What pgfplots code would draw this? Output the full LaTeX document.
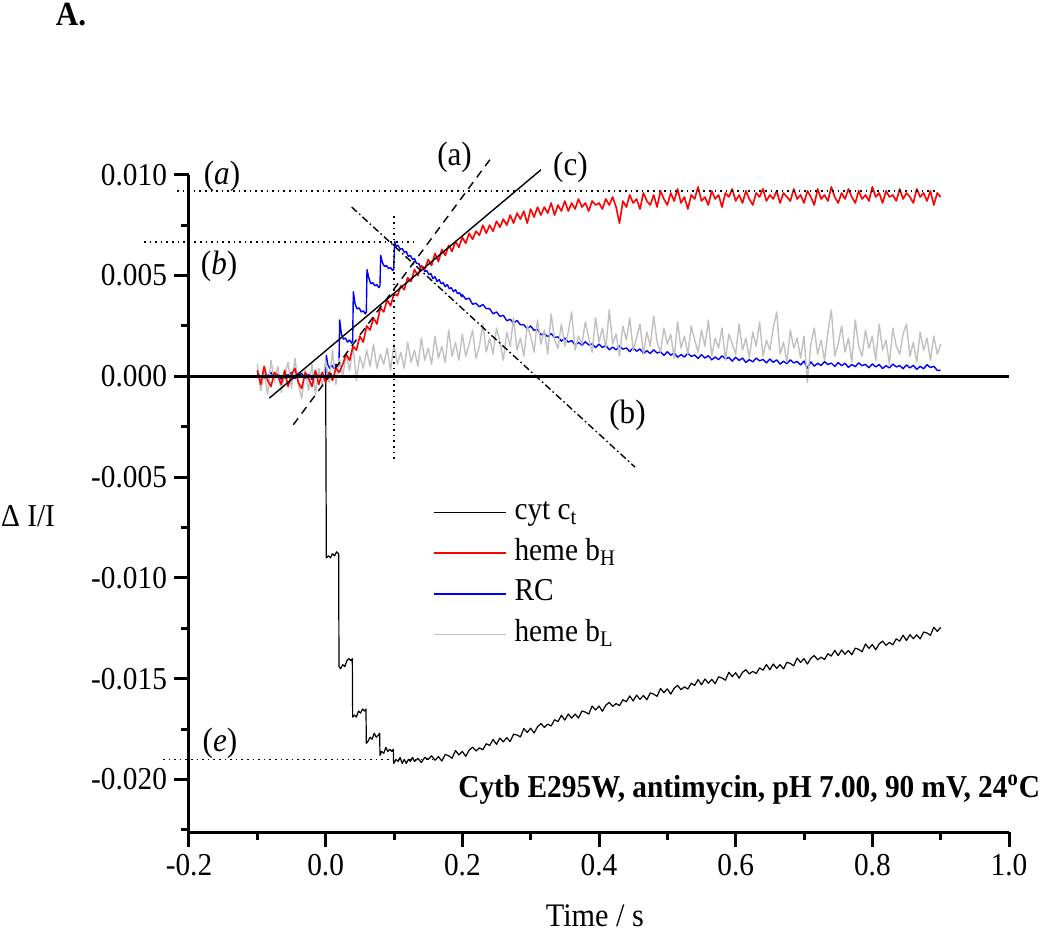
\documentclass[border=0pt]{standalone}
\usepackage{fontspec}
\setmainfont{Liberation Serif}[FakeStretch=0.92]
\usepackage{pgfplots}
\pgfplotsset{compat=1.18}
\definecolor{ltgray}{RGB}{192,192,192}
\newcommand{\tfont}{\fontsize{16}{19}\selectfont}
\newcommand{\lfont}{\fontsize{17}{20}\selectfont}

\begin{document}
\begin{tikzpicture}
\path[use as bounding box] (-94.5bp,-52bp) rectangle (430.5bp,416bp);
\begin{axis}[
    at={(0,0)}, anchor=south west, scale only axis,
    width=410bp, height=328.6bp,
    xmin=-0.2, xmax=1.0, ymin=-22.6, ymax=10,
    axis x line=bottom, axis y line=left,
    axis line style={-, line width=1.5bp},
    xtick={-0.2,0,0.2,0.4,0.6,0.8,1.0},
    xticklabels={-0.2,0.0,0.2,0.4,0.6,0.8,1.0},
    minor xtick={-0.1,0.1,0.3,0.5,0.7,0.9},
    ytick={-20,-15,-10,-5,0,5,10},
    yticklabels={-0.020,-0.015,-0.010,-0.005,0.000,0.005,0.010},
    minor ytick={-22.5,-17.5,-12.5,-7.5,-2.5,2.5,7.5},
    tick align=outside,
    major tick length=7.5bp, minor tick length=4bp,
    every tick/.style={black, line width=1.5bp},
    tick label style={font=\tfont},
    clip=false,
    legend style={draw=none, fill=none, at={(axis cs:0.157,-6.0)}, anchor=north west,
        inner sep=0pt, outer sep=0pt, row sep=5.35bp, font=\tfont,
        nodes={inner sep=0pt, text height=11bp, text depth=4bp},
        /tikz/every odd column/.append style={column sep=4bp}},
    legend cell align=left,
    legend image code/.code={\draw[#1] (0bp,0bp) -- (36bp,0bp);},
    every axis plot/.append style={line join=round},
]

% cyt c_t
\addplot[black, line width=0.6bp, forget plot] coordinates {
(-0.1,0.1) (-0.09,-0.1) (-0.08,0.0) (-0.07,0.1) (-0.06,-0.1) (-0.05,0.0) (-0.04,0.1) (-0.03,-0.1) (-0.02,0.0) (-0.01,0.1) (0.0,0.0)
(0.001,-9.0) (0.004,-8.9) (0.007,-9.0) (0.010,-8.8) (0.013,-8.9) (0.016,-8.7) (0.019,-8.8)
(0.0195,-14.4) (0.022,-14.5) (0.025,-14.3) (0.028,-14.4) (0.031,-14.1) (0.034,-14.0) (0.037,-14.1) (0.039,-14.0)
(0.0395,-16.9) (0.042,-16.8) (0.045,-16.9) (0.048,-16.6) (0.051,-16.7) (0.054,-16.5) (0.057,-16.6) (0.059,-16.5)
(0.0595,-18.2) (0.062,-18.1) (0.065,-17.9) (0.068,-18.0) (0.071,-17.7) (0.074,-17.9) (0.077,-17.8) (0.079,-17.7)
(0.0795,-18.8) (0.082,-18.6) (0.085,-18.7) (0.088,-18.4) (0.091,-18.6) (0.094,-18.5) (0.097,-18.6) (0.099,-18.5)
(0.0995,-19.2) (0.103,-19.0) (0.106,-19.1) (0.109,-18.9) (0.112,-19.2) (0.115,-19.0) (0.118,-19.2) (0.121,-19.0)
(0.124,-19.1) (0.127,-18.9) (0.130,-19.1) (0.135,-18.95) (0.140,-19.15) (0.145,-18.9)
(0.150,-19.00) (0.155,-18.82) (0.160,-19.04) (0.165,-18.86) (0.170,-19.08) (0.175,-18.75) (0.180,-18.82) (0.185,-18.94) (0.190,-18.56) (0.195,-18.78)
(0.200,-18.60) (0.205,-18.85) (0.210,-18.54) (0.215,-18.39) (0.220,-18.58) (0.225,-18.43) (0.230,-18.52) (0.235,-18.22) (0.240,-18.31) (0.245,-18.01)
(0.250,-18.25) (0.255,-17.94) (0.260,-18.13) (0.265,-17.92) (0.270,-18.11) (0.275,-17.75) (0.280,-17.79) (0.285,-17.88) (0.290,-17.47) (0.295,-17.66)
(0.300,-17.45) (0.305,-17.69) (0.310,-17.38) (0.315,-17.22) (0.320,-17.41) (0.325,-17.25) (0.330,-17.34) (0.335,-17.03) (0.340,-17.12) (0.345,-16.81)
(0.350,-17.05) (0.355,-16.75) (0.360,-16.95) (0.365,-16.75) (0.370,-16.95) (0.375,-16.60) (0.380,-16.65) (0.385,-16.75) (0.390,-16.35) (0.395,-16.55)
(0.400,-16.35) (0.405,-16.61) (0.410,-16.31) (0.415,-16.17) (0.420,-16.37) (0.425,-16.23) (0.430,-16.33) (0.435,-16.04) (0.440,-16.14) (0.445,-15.85)
(0.450,-16.10) (0.455,-15.81) (0.460,-16.02) (0.465,-15.83) (0.470,-16.04) (0.475,-15.70) (0.480,-15.76) (0.485,-15.87) (0.490,-15.48) (0.495,-15.69)
(0.500,-15.50) (0.505,-15.76) (0.510,-15.47) (0.515,-15.33) (0.520,-15.54) (0.525,-15.40) (0.530,-15.51) (0.535,-15.22) (0.540,-15.33) (0.545,-15.04)
(0.550,-15.30) (0.555,-15.01) (0.560,-15.22) (0.565,-15.03) (0.570,-15.24) (0.575,-14.90) (0.580,-14.96) (0.585,-15.07) (0.590,-14.68) (0.595,-14.89)
(0.600,-14.70) (0.605,-14.97) (0.610,-14.68) (0.615,-14.55) (0.620,-14.76) (0.625,-14.63) (0.630,-14.74) (0.635,-14.46) (0.640,-14.57) (0.645,-14.29)
(0.650,-14.55) (0.655,-14.27) (0.660,-14.48) (0.665,-14.30) (0.670,-14.51) (0.675,-14.18) (0.680,-14.24) (0.685,-14.36) (0.690,-13.97) (0.695,-14.19)
(0.700,-14.00) (0.705,-14.27) (0.710,-13.98) (0.715,-13.85) (0.720,-14.06) (0.725,-13.93) (0.730,-14.04) (0.735,-13.76) (0.740,-13.87) (0.745,-13.59)
(0.750,-13.85) (0.755,-13.57) (0.760,-13.78) (0.765,-13.60) (0.770,-13.81) (0.775,-13.48) (0.780,-13.54) (0.785,-13.66) (0.790,-13.27) (0.795,-13.49)
(0.800,-13.30) (0.805,-13.56) (0.810,-13.27) (0.815,-13.13) (0.820,-13.34) (0.825,-13.20) (0.830,-13.31) (0.835,-13.02) (0.840,-13.13) (0.845,-12.84)
(0.850,-13.10) (0.855,-12.81) (0.860,-13.01) (0.865,-12.82) (0.870,-13.02) (0.875,-12.68) (0.880,-12.73) (0.885,-12.84) (0.890,-12.44) (0.895,-12.65)
(0.900,-12.45)
};

% RC
\addplot[blue, line width=0.7bp, forget plot] coordinates {
(-0.1,0.2) (-0.095,-0.05) (-0.09,0.15) (-0.085,0.0) (-0.08,0.2) (-0.075,-0.1) (-0.07,0.1) (-0.065,-0.15) (-0.06,0.1) (-0.055,0.05)
(-0.05,0.2) (-0.045,-0.1) (-0.04,0.05) (-0.035,0.15) (-0.03,-0.1) (-0.025,0.1) (-0.02,-0.15) (-0.015,0.1) (-0.01,-0.05) (-0.005,0.05)
(0,0.0) (0.001,1.05) (0.003,0.6) (0.006,0.4) (0.009,0.55) (0.012,0.4) (0.015,0.6) (0.018,0.5) (0.0195,0.55)
(0.0205,2.8) (0.023,2.1) (0.026,1.85) (0.029,1.9) (0.032,1.7) (0.035,1.8) (0.038,1.65) (0.0395,1.75)
(0.0405,4.2) (0.043,3.6) (0.046,3.35) (0.049,3.4) (0.052,3.2) (0.055,3.25) (0.058,3.1) (0.0595,3.2)
(0.0605,5.3) (0.063,4.9) (0.066,4.6) (0.069,4.65) (0.072,4.5) (0.075,4.55) (0.078,4.4) (0.0795,4.5)
(0.0805,6.0) (0.083,5.65) (0.086,5.45) (0.089,5.5) (0.092,5.35) (0.095,5.4) (0.098,5.25) (0.0995,5.3)
(0.101,6.7) (0.103,6.45) (0.106,6.5) (0.109,6.3) (0.112,6.35) (0.115,6.15) (0.118,6.2) (0.121,5.95) (0.124,6.0) (0.127,5.8)
(0.130,5.85) (0.133,5.6) (0.136,5.6) (0.139,5.4) (0.142,5.45) (0.145,5.2) (0.148,5.25) (0.151,5.05) (0.154,5.1) (0.157,4.85)
(0.160,4.95) (0.163,4.7) (0.166,4.8) (0.169,4.6) (0.172,4.65) (0.175,4.45) (0.178,4.55) (0.181,4.35) (0.184,4.4) (0.187,4.2)
(0.190,4.3) (0.193,4.1) (0.196,4.15) (0.199,3.95)
(0.200,4.05) (0.205,3.83) (0.210,3.88) (0.215,3.58) (0.220,3.63) (0.225,3.45) (0.230,3.57) (0.235,3.36) (0.240,3.36) (0.245,3.10)
(0.250,3.20) (0.255,2.98) (0.260,3.03) (0.265,2.76) (0.270,2.83) (0.275,2.65) (0.280,2.77) (0.285,2.56) (0.290,2.56) (0.295,2.35)
(0.300,2.50) (0.305,2.28) (0.310,2.33) (0.315,2.06) (0.320,2.13) (0.325,1.97) (0.330,2.12) (0.335,1.93) (0.340,1.96) (0.345,1.75)
(0.350,1.90) (0.355,1.70) (0.360,1.78) (0.365,1.56) (0.370,1.68) (0.375,1.55) (0.380,1.72) (0.385,1.56) (0.390,1.61) (0.395,1.43)
(0.400,1.60) (0.405,1.43) (0.410,1.54) (0.415,1.32) (0.420,1.45) (0.425,1.32) (0.430,1.51) (0.435,1.35) (0.440,1.41) (0.445,1.23)
(0.450,1.42) (0.455,1.25) (0.460,1.36) (0.465,1.14) (0.470,1.27) (0.475,1.14) (0.480,1.32) (0.485,1.16) (0.490,1.22) (0.495,1.04)
(0.500,1.22) (0.505,1.05) (0.510,1.17) (0.515,0.95) (0.520,1.08) (0.525,0.96) (0.530,1.15) (0.535,0.99) (0.540,1.06) (0.545,0.89)
(0.550,1.08) (0.555,0.91) (0.560,1.03) (0.565,0.82) (0.570,0.96) (0.575,0.83) (0.580,1.02) (0.585,0.87) (0.590,0.94) (0.595,0.76)
(0.600,0.95) (0.605,0.79) (0.610,0.91) (0.615,0.69) (0.620,0.83) (0.625,0.72) (0.630,0.91) (0.635,0.77) (0.640,0.84) (0.645,0.67)
(0.650,0.86) (0.655,0.70) (0.660,0.82) (0.665,0.61) (0.670,0.75) (0.675,0.63) (0.680,0.82) (0.685,0.67) (0.690,0.74) (0.695,0.57)
(0.700,0.76) (0.705,0.40) (0.710,0.72) (0.715,0.51) (0.720,0.65) (0.725,0.54) (0.730,0.73) (0.735,0.59) (0.740,0.66) (0.745,0.49)
(0.750,0.69) (0.755,0.53) (0.760,0.65) (0.765,0.45) (0.770,0.59) (0.775,0.48) (0.780,0.67) (0.785,0.53) (0.790,0.60) (0.795,0.43)
(0.800,0.62) (0.805,0.47) (0.810,0.59) (0.815,0.39) (0.820,0.53) (0.825,0.42) (0.830,0.61) (0.835,0.47) (0.840,0.54) (0.845,0.38)
(0.850,0.57) (0.855,0.42) (0.860,0.55) (0.865,0.35) (0.870,0.50) (0.875,0.38) (0.880,0.58) (0.885,0.44) (0.890,0.50) (0.895,0.30)
(0.900,0.30)
};

% heme b_L
\addplot[ltgray, line width=0.7bp, forget plot] coordinates {
(-0.100,0.6) (-0.095,-0.7) (-0.090,0.2) (-0.085,-0.9) (-0.080,0.8) (-0.075,-0.3) (-0.070,0.5) (-0.065,-0.8) (-0.060,0.1) (-0.055,0.7)
(-0.050,-0.6) (-0.045,0.9) (-0.040,-0.4) (-0.035,-1.1) (-0.030,0.3) (-0.025,-0.7) (-0.020,0.6) (-0.015,-0.9) (-0.010,0.4) (-0.005,-0.5)
(0.000,0.8) (0.005,-0.3) (0.010,1.3) (0.015,-0.4) (0.020,0.9) (0.025,0.0) (0.030,1.1) (0.035,0.3) (0.040,1.5) (0.045,-0.2)
(0.050,1.0) (0.055,0.4) (0.060,1.3) (0.065,0.5) (0.070,1.6) (0.075,0.4) (0.080,1.1) (0.085,0.6) (0.090,1.4) (0.095,0.3)
(0.100,1.6) (0.105,0.6) (0.110,1.2) (0.115,0.4) (0.120,1.7) (0.125,0.7) (0.130,1.3) (0.135,0.5) (0.140,1.9) (0.145,0.8)
(0.150,1.4) (0.155,0.6) (0.160,2.0) (0.165,0.9) (0.170,1.5) (0.175,0.7) (0.180,2.3) (0.185,1.0) (0.190,1.7) (0.195,0.8)
(0.200,2.1) (0.205,1.0) (0.210,1.6) (0.215,2.3) (0.220,0.9) (0.225,1.5) (0.230,2.6) (0.235,1.2) (0.240,1.9) (0.245,1.1)
(0.250,2.4) (0.255,1.7) (0.260,0.8) (0.265,2.2) (0.270,1.5) (0.275,2.9) (0.280,1.3) (0.285,1.9) (0.290,1.0) (0.295,2.5)
(0.300,2.0) (0.305,1.2) (0.310,2.8) (0.315,1.6) (0.320,2.3) (0.325,1.1) (0.330,3.1) (0.335,1.8) (0.340,1.4) (0.345,2.6)
(0.350,1.5) (0.355,2.2) (0.360,3.2) (0.365,1.3) (0.370,2.0) (0.375,1.6) (0.380,2.7) (0.385,1.9) (0.390,1.2) (0.395,2.9)
(0.400,1.7) (0.405,2.4) (0.410,1.4) (0.415,3.3) (0.420,1.6) (0.425,2.1) (0.430,1.0) (0.435,2.5) (0.440,1.8) (0.445,2.9)
(0.450,1.3) (0.455,1.9) (0.460,2.6) (0.465,1.1) (0.470,2.2) (0.475,1.5) (0.480,3.0) (0.485,1.7) (0.490,1.2) (0.495,2.4)
(0.500,1.6) (0.505,2.1) (0.510,0.9) (0.515,2.7) (0.520,1.4) (0.525,2.0) (0.530,1.1) (0.535,2.5) (0.540,1.8) (0.545,1.2)
(0.550,2.3) (0.555,1.5) (0.560,2.8) (0.565,1.0) (0.570,1.9) (0.575,1.4) (0.580,2.4) (0.585,0.8) (0.590,2.1) (0.595,1.6)
(0.600,1.1) (0.605,2.6) (0.610,1.3) (0.615,1.9) (0.620,0.9) (0.625,2.2) (0.630,1.5) (0.635,2.7) (0.640,1.0) (0.645,1.8)
(0.650,1.3) (0.655,2.4) (0.660,3.2) (0.665,1.1) (0.670,1.7) (0.675,0.7) (0.680,2.3) (0.685,1.4) (0.690,1.9) (0.695,0.9)
(0.700,2.0) (0.705,-0.3) (0.710,1.6) (0.715,2.4) (0.720,1.1) (0.725,1.8) (0.730,0.8) (0.735,2.2) (0.740,3.3) (0.745,1.0)
(0.750,1.6) (0.755,2.5) (0.760,1.2) (0.765,1.9) (0.770,0.7) (0.775,2.8) (0.780,1.5) (0.785,1.0) (0.790,2.3) (0.795,1.4)
(0.800,2.0) (0.805,0.8) (0.810,2.6) (0.815,1.3) (0.820,1.8) (0.825,0.6) (0.830,2.4) (0.835,1.5) (0.840,1.1) (0.845,2.1)
(0.850,2.6) (0.855,1.0) (0.860,1.7) (0.865,0.7) (0.870,2.2) (0.875,1.3) (0.880,1.9) (0.885,0.8) (0.890,2.0) (0.895,1.1)
(0.900,1.6)
};

% heme b_H
\addplot[red, line width=0.8bp, forget plot] coordinates {
(-0.100,0.3) (-0.095,-0.4) (-0.090,0.5) (-0.085,-0.2) (-0.080,-0.5) (-0.075,0.2) (-0.070,0.0) (-0.065,-0.4) (-0.060,0.3) (-0.055,-0.5)
(-0.050,0.1) (-0.045,0.4) (-0.040,-0.3) (-0.035,-0.6) (-0.030,0.2) (-0.025,-0.1) (-0.020,-0.5) (-0.015,0.3) (-0.010,-0.4) (-0.005,0.2)
(0.000,-0.3) (0.005,0.2) (0.010,-0.2) (0.015,0.4) (0.020,0.2) (0.025,0.6) (0.030,1.1) (0.035,0.8) (0.040,1.5) (0.045,1.3)
(0.050,2.0) (0.055,1.7) (0.060,2.5) (0.065,2.3) (0.070,2.9) (0.075,2.6) (0.080,3.4) (0.085,3.2) (0.090,3.8) (0.095,3.5)
(0.100,4.1) (0.105,4.0) (0.110,4.5) (0.115,4.3) (0.120,4.9) (0.125,4.7) (0.130,5.3) (0.135,5.0) (0.140,5.5) (0.145,5.3)
(0.150,5.8) (0.155,5.5) (0.160,6.1) (0.165,5.7) (0.170,6.3) (0.175,6.0) (0.180,6.5) (0.185,6.2) (0.190,6.7) (0.195,6.4)
(0.200,6.9) (0.205,6.6) (0.210,7.1) (0.215,6.8) (0.220,7.2) (0.225,7.0) (0.230,7.5) (0.235,7.1) (0.240,7.5) (0.245,7.2)
(0.250,7.7) (0.255,7.4) (0.260,7.8) (0.265,7.5) (0.270,8.0) (0.275,7.6) (0.280,8.1) (0.285,7.8) (0.290,8.2) (0.295,7.6)
(0.300,8.3) (0.305,7.9) (0.310,8.4) (0.315,8.0) (0.320,8.4) (0.325,8.1) (0.330,8.6) (0.335,8.0) (0.340,8.5) (0.345,8.2)
(0.350,8.7) (0.355,8.2) (0.360,8.6) (0.365,8.3) (0.370,8.8) (0.375,8.4) (0.380,8.6) (0.385,8.2) (0.390,8.7) (0.395,8.5)
(0.400,8.6) (0.405,8.3) (0.410,8.8) (0.415,8.5) (0.420,8.9) (0.425,8.4) (0.430,7.6) (0.435,8.7) (0.440,8.4) (0.445,9.0)
(0.450,8.6) (0.455,8.8) (0.460,8.3) (0.465,9.1) (0.470,8.7) (0.475,8.5) (0.480,9.0) (0.485,8.4) (0.490,9.2) (0.495,8.8)
(0.500,8.5) (0.505,9.1) (0.510,8.7) (0.515,9.3) (0.520,8.6) (0.525,8.9) (0.530,8.3) (0.535,9.0) (0.540,8.8) (0.545,9.4)
(0.550,8.7) (0.555,8.9) (0.560,8.5) (0.565,9.2) (0.570,8.8) (0.575,9.0) (0.580,8.4) (0.585,9.1) (0.590,8.9) (0.595,9.3)
(0.600,8.7) (0.605,9.0) (0.610,8.6) (0.615,9.2) (0.620,8.8) (0.625,8.5) (0.630,9.1) (0.635,8.9) (0.640,9.3) (0.645,8.7)
(0.650,9.0) (0.655,8.8) (0.660,9.2) (0.665,8.6) (0.670,9.1) (0.675,8.9) (0.680,8.7) (0.685,9.3) (0.690,8.8) (0.695,9.0)
(0.700,8.6) (0.705,9.2) (0.710,8.9) (0.715,8.5) (0.720,9.3) (0.725,8.8) (0.730,9.0) (0.735,8.7) (0.740,9.4) (0.745,8.9)
(0.750,8.6) (0.755,9.1) (0.760,8.8) (0.765,9.3) (0.770,8.9) (0.775,8.6) (0.780,9.2) (0.785,8.8) (0.790,9.0) (0.795,8.7)
(0.800,9.4) (0.805,8.9) (0.810,9.1) (0.815,8.6) (0.820,9.2) (0.825,8.9) (0.830,9.0) (0.835,8.7) (0.840,9.3) (0.845,8.8)
(0.850,9.1) (0.855,8.9) (0.860,8.6) (0.865,9.3) (0.870,8.9) (0.875,9.1) (0.880,8.7) (0.885,9.2) (0.890,8.5) (0.895,9.1)
(0.900,8.9)
};

% zero line
\addplot[black, line width=1.5bp, forget plot] coordinates {(-0.2,0) (1.0,0)};

% guide lines
\addplot[black, line width=0.7bp, forget plot] coordinates {(-0.0825,-1.08) (0.3151,10.25)};
\addplot[black, line width=0.7bp, dash pattern=on 4bp off 3bp, forget plot] coordinates {(-0.0473,-2.40) (0.2439,10.91)};
\addplot[black, line width=0.7bp, dash pattern=on 3.5bp off 1.5bp on 0.8bp off 1.5bp, forget plot] coordinates {(0.0381,8.40) (0.4527,-4.50)};
\addplot[black, line width=0.7bp, dash pattern=on 0.8bp off 2bp, forget plot] coordinates {(0.1,7.94) (0.1,-4.17)};
\addplot[black, line width=0.7bp, dash pattern=on 0.8bp off 2bp, forget plot] coordinates {(-0.2176,9.19) (0.895,9.19)};
\addplot[black, line width=0.7bp, dash pattern=on 0.8bp off 2bp, forget plot] coordinates {(-0.2659,6.66) (0.128,6.66)};
\addplot[black, line width=0.7bp, dash pattern=on 0.8bp off 2bp, forget plot] coordinates {(-0.238,-19.01) (0.16,-19.01)};

\addlegendimage{black, line width=0.6bp}
\addlegendentry{cyt c\textsubscript{t}}
\addlegendimage{red, line width=0.8bp}
\addlegendentry{heme b\textsubscript{H}}
\addlegendimage{blue, line width=0.8bp}
\addlegendentry{RC}
\addlegendimage{ltgray, line width=0.8bp}
\addlegendentry{heme b\textsubscript{L}}

\node[font=\lfont] at (axis cs:-0.1517,9.92) {(\textit{a})};
\node[font=\lfont] at (axis cs:-0.156,5.46) {(\textit{b})};
\node[font=\lfont] at (axis cs:-0.1546,-18.2) {(\textit{e})};
\node[font=\lfont] at (axis cs:0.1886,10.86) {(a)};
\node[font=\lfont] at (axis cs:0.3583,10.37) {(c)};
\node[font=\lfont] at (axis cs:0.4417,-1.93) {(b)};

\node[font=\tfont] at (axis cs:-0.4356,-6.94) {Δ I/I};
\node[font=\fontsize{16.5}{19}\selectfont] at (axis cs:0.394,-26.74) {Time / s};
\node[font=\tfont\bfseries, anchor=east] at (axis cs:1.0557,-20.5) {Cytb E295W, antimycin, pH 7.00, 90 mV, 24\textsuperscript{o}C};
\node[font=\fontsize{17}{20}\selectfont\bfseries, anchor=base] at (axis cs:-0.3727,17.4) {A.};
\end{axis}
\end{tikzpicture}
\end{document}
